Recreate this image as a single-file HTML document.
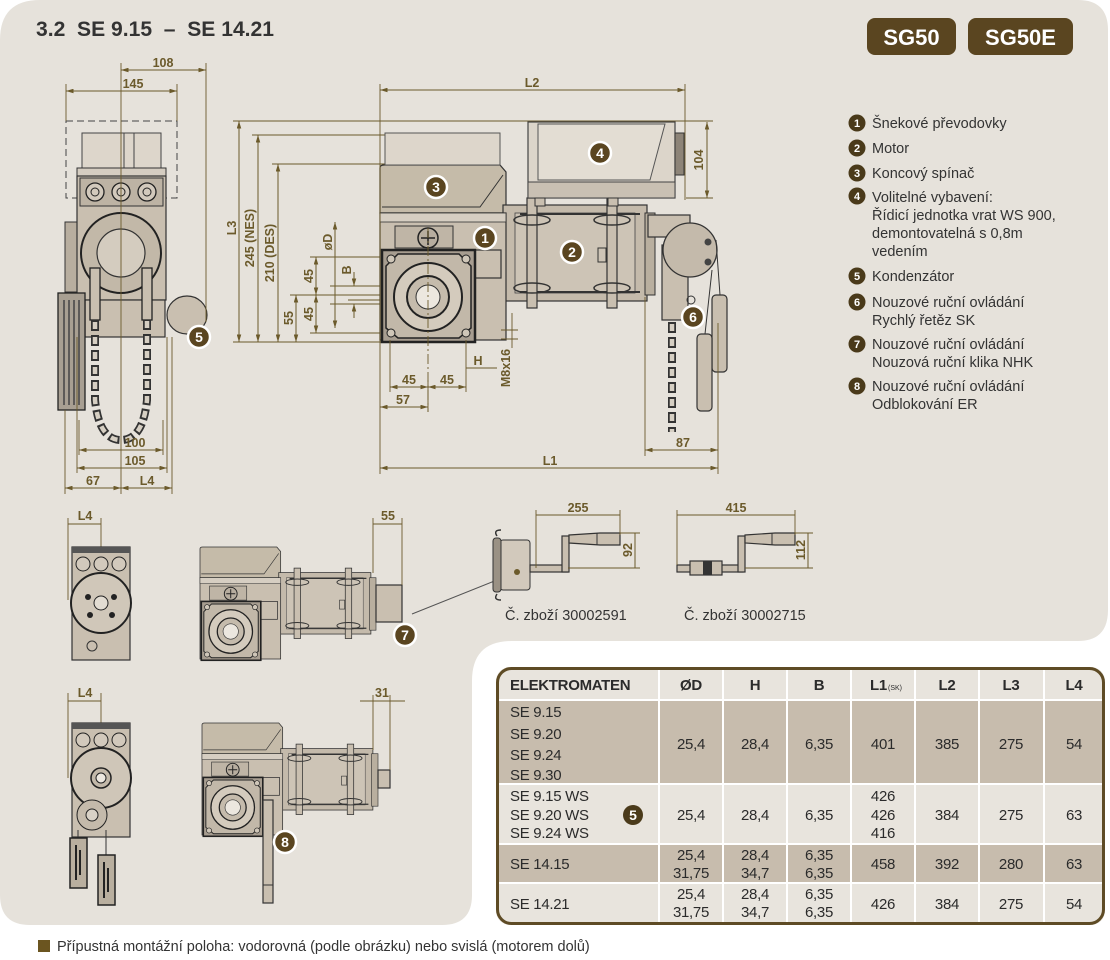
<!DOCTYPE html>
<html><head><meta charset="utf-8"><style>
html,body{margin:0;padding:0;background:#fff;}
svg{display:block;font-family:"Liberation Sans",sans-serif;}
.d{stroke:#6b5a2b;stroke-width:1;fill:none;}
.e{stroke:#6b5a2b;stroke-width:0.9;fill:none;}
.dt{fill:#6b5a2b;font-size:12.5px;font-weight:bold;text-anchor:middle;}
.p{fill:#c9bfb0;stroke:#333;stroke-width:1.2;}
.lg{fill:#333;font-size:14.5px;}
.tb{fill:#2b2b2b;font-size:15px;letter-spacing:-0.3px;}
.tc{text-anchor:middle;}
.bn{fill:#fff;font-size:14px;font-weight:bold;text-anchor:middle;}
</style></head><body>
<svg width="1110" height="960" viewBox="0 0 1110 960" xmlns="http://www.w3.org/2000/svg">
<defs>
<marker id="a" viewBox="0 0 10 6" refX="10" refY="3" markerWidth="8" markerHeight="4.5" orient="auto-start-reverse"><path d="M0,0 L10,3 L0,6z" fill="#6b5a2b"/></marker>
<g id="gm">
<path d="M380,213 V168 Q380,165 384,165 H500 L506,172 V213 Z" fill="#c5bba9" stroke="#333" stroke-width="1.2"/>
<path d="M503,175 L480,207 H382" stroke="#333" fill="none"/>
<rect x="503" y="205" width="144" height="96" fill="#c4baab" stroke="#333" stroke-width="1.2"/>
<rect x="515" y="213" width="120" height="80" fill="#cdc4b6" stroke="#444" stroke-width="0.8"/>
<line x1="520" y1="214" x2="640" y2="214" stroke="#333" stroke-width="2"/>
<line x1="520" y1="292" x2="640" y2="292" stroke="#333" stroke-width="2"/>
<rect x="527" y="198" width="10" height="110" class="p"/>
<rect x="607" y="198" width="10" height="110" class="p"/>
<ellipse cx="532" cy="220" rx="18" ry="5" fill="none" stroke="#333" stroke-width="1.5"/>
<ellipse cx="612" cy="220" rx="18" ry="5" fill="none" stroke="#333" stroke-width="1.5"/>
<ellipse cx="532" cy="288" rx="18" ry="5" fill="none" stroke="#333" stroke-width="1.5"/>
<ellipse cx="612" cy="288" rx="18" ry="5" fill="none" stroke="#333" stroke-width="1.5"/>
<rect x="598" y="248" width="8" height="14" fill="none" stroke="#333"/>
<rect x="645" y="213" width="10" height="82" fill="#b9af9f" stroke="#333"/>
<rect x="380" y="213" width="126" height="127" class="p"/>
<rect x="380" y="213" width="126" height="9" fill="#d6cec2" stroke="#333" stroke-width="0.8"/>
<rect x="395" y="226" width="58" height="22" fill="#bfb5a6" stroke="#333"/>
<circle cx="428" cy="238" r="10" fill="#b7ad9f" stroke="#222" stroke-width="1.5"/>
<path d="M421,238 H435 M428,231 V245" stroke="#222" stroke-width="1.5"/>
<rect x="475" y="250" width="26" height="28" class="p"/>
<rect x="382" y="250" width="93" height="92" fill="#a79d90" stroke="#222" stroke-width="2.5"/>
<polygon points="398,254 459,254 471,266 471,328 459,338 398,338 386,328 386,266" fill="#c2b8a9" stroke="#222" stroke-width="1.5"/>
<circle cx="391" cy="259" r="4" fill="#cfc6b8" stroke="#222"/>
<circle cx="466" cy="259" r="4" fill="#cfc6b8" stroke="#222"/>
<circle cx="391" cy="333" r="4" fill="#cfc6b8" stroke="#222"/>
<circle cx="466" cy="333" r="4" fill="#cfc6b8" stroke="#222"/>
<circle cx="428" cy="297" r="34" fill="#d4cbbd" stroke="#222" stroke-width="2"/>
<circle cx="428" cy="297" r="21" fill="#c5bbac" stroke="#222" stroke-width="2"/>
<circle cx="428" cy="297" r="12" fill="#ece7df" stroke="#333"/>
</g>
<clipPath id="tc"><rect x="496" y="667" width="609" height="258" rx="14"/></clipPath>
</defs>

<!-- panel -->
<path d="M0,40 Q0,0 40,0 H1078 Q1108,0 1108,30 V610 Q1108,641 1078,641 H512 Q472,641 472,681 V895 Q472,925 442,925 H30 Q0,925 0,895 Z" fill="#e6e2db"/>

<!-- title -->
<text x="36" y="36" font-size="21" font-weight="bold" fill="#333" textLength="238" lengthAdjust="spacingAndGlyphs">3.2&#160; SE 9.15 &#160;–&#160; SE 14.21</text>

<rect x="867" y="18" width="89" height="37" rx="8" fill="#5a4520"/>
<text x="911.5" y="45" font-size="22" font-weight="bold" fill="#fff" text-anchor="middle">SG50</text>
<rect x="968" y="18" width="105" height="37" rx="8" fill="#5a4520"/>
<text x="1020.5" y="45" font-size="22" font-weight="bold" fill="#fff" text-anchor="middle">SG50E</text>

<!-- legend -->
<g>
<circle cx="857" cy="123" r="8.5" fill="#4a3a1a"/><text x="857" y="127" font-size="11" font-weight="bold" fill="#fff" text-anchor="middle">1</text>
<text x="872" y="128" class="lg">Šnekové převodovky</text>
<circle cx="857" cy="148" r="8.5" fill="#4a3a1a"/><text x="857" y="152" font-size="11" font-weight="bold" fill="#fff" text-anchor="middle">2</text>
<text x="872" y="153" class="lg">Motor</text>
<circle cx="857" cy="173" r="8.5" fill="#4a3a1a"/><text x="857" y="177" font-size="11" font-weight="bold" fill="#fff" text-anchor="middle">3</text>
<text x="872" y="178" class="lg">Koncový spínač</text>
<circle cx="857" cy="196" r="8.5" fill="#4a3a1a"/><text x="857" y="200" font-size="11" font-weight="bold" fill="#fff" text-anchor="middle">4</text>
<text x="872" y="202" class="lg">Volitelné vybavení:</text>
<text x="872" y="220" class="lg">Řídicí jednotka vrat WS 900,</text>
<text x="872" y="238" class="lg">demontovatelná s 0,8m</text>
<text x="872" y="256" class="lg">vedením</text>
<circle cx="857" cy="276" r="8.5" fill="#4a3a1a"/><text x="857" y="280" font-size="11" font-weight="bold" fill="#fff" text-anchor="middle">5</text>
<text x="872" y="281" class="lg">Kondenzátor</text>
<circle cx="857" cy="302" r="8.5" fill="#4a3a1a"/><text x="857" y="306" font-size="11" font-weight="bold" fill="#fff" text-anchor="middle">6</text>
<text x="872" y="307" class="lg">Nouzové ruční ovládání</text>
<text x="872" y="325" class="lg">Rychlý řetěz SK</text>
<circle cx="857" cy="344" r="8.5" fill="#4a3a1a"/><text x="857" y="348" font-size="11" font-weight="bold" fill="#fff" text-anchor="middle">7</text>
<text x="872" y="349" class="lg">Nouzové ruční ovládání</text>
<text x="872" y="367" class="lg">Nouzová ruční klika NHK</text>
<circle cx="857" cy="386" r="8.5" fill="#4a3a1a"/><text x="857" y="390" font-size="11" font-weight="bold" fill="#fff" text-anchor="middle">8</text>
<text x="872" y="391" class="lg">Nouzové ruční ovládání</text>
<text x="872" y="409" class="lg">Odblokování ER</text>
</g>

<!-- ===== LEFT SIDE VIEW ===== -->
<rect x="66" y="121" width="111" height="77" fill="none" stroke="#444" stroke-dasharray="7 4"/>
<rect x="82" y="133" width="79" height="35" fill="#ddd6cb" stroke="#444"/>
<line x1="124" y1="133" x2="124" y2="168" stroke="#444"/><line x1="134" y1="133" x2="134" y2="168" stroke="#444"/>
<ellipse cx="187" cy="315" rx="20" ry="19" class="p"/>
<rect x="65" y="222" width="13" height="70" fill="#b8ae9f" stroke="#333"/>
<rect x="77" y="168" width="89" height="8" fill="#d5cdc1" stroke="#333"/>
<rect x="77" y="176" width="89" height="124" class="p"/>
<rect x="85" y="300" width="80" height="37" class="p"/>
<rect x="80" y="178" width="83" height="28" fill="#bdb3a4" stroke="#333"/>
<circle cx="95" cy="192" r="9" fill="#d2c9bc" stroke="#222" stroke-width="1.3"/><circle cx="95" cy="192" r="4" fill="none" stroke="#222"/>
<circle cx="121" cy="192" r="9" fill="#d2c9bc" stroke="#222" stroke-width="1.3"/><circle cx="121" cy="192" r="4" fill="none" stroke="#222"/>
<circle cx="147" cy="192" r="9" fill="#d2c9bc" stroke="#222" stroke-width="1.3"/><circle cx="147" cy="192" r="4" fill="none" stroke="#222"/>
<circle cx="121" cy="253" r="40" fill="#c2b8a8" stroke="#222" stroke-width="2"/>
<circle cx="121" cy="253" r="24" fill="#d4ccbf" stroke="#333" stroke-width="1.2"/>
<rect x="90" y="268" width="10" height="52" fill="#c9bfb0" stroke="#222" stroke-width="1.3"/>
<rect x="142" y="268" width="10" height="52" fill="#c9bfb0" stroke="#222" stroke-width="1.3"/>
<path d="M95,320 V400 Q99,440 121,440 Q143,440 147,400 V320" fill="none" stroke="#333" stroke-width="8" stroke-dasharray="11 4"/>
<path d="M95,320 V400 Q99,440 121,440 Q143,440 147,400 V320" fill="none" stroke="#d6cfc3" stroke-width="4.5" stroke-dasharray="7 8" stroke-dashoffset="-2"/>
<rect x="58" y="293" width="27" height="117" fill="#a89f92" stroke="#222" stroke-width="1.3"/>
<path d="M64,300 V405 M69,300 V405 M74,300 V405 M79,300 V405" stroke="#444" stroke-width="1.5"/>
<line x1="121" y1="63" x2="121" y2="494" class="e"/>
<line x1="206" y1="63" x2="206" y2="322" class="e"/>
<line x1="66" y1="84" x2="66" y2="121" class="e"/>
<line x1="177" y1="84" x2="177" y2="121" class="e"/>
<line x1="121" y1="70" x2="206" y2="70" class="d" marker-start="url(#a)" marker-end="url(#a)"/>
<text x="163" y="67" class="dt">108</text>
<line x1="66" y1="91" x2="177" y2="91" class="d" marker-start="url(#a)" marker-end="url(#a)"/>
<text x="133" y="88" class="dt">145</text>
<line x1="65" y1="410" x2="65" y2="494" class="e"/>
<line x1="77" y1="337" x2="77" y2="473" class="e"/>
<line x1="79" y1="420" x2="79" y2="455" class="e"/>
<line x1="163" y1="420" x2="163" y2="455" class="e"/>
<line x1="167" y1="337" x2="167" y2="473" class="e"/>
<line x1="172" y1="337" x2="172" y2="494" class="e"/>
<line x1="79" y1="450" x2="163" y2="450" class="d" marker-start="url(#a)" marker-end="url(#a)"/>
<text x="135" y="447" class="dt">100</text>
<line x1="77" y1="468" x2="167" y2="468" class="d" marker-start="url(#a)" marker-end="url(#a)"/>
<text x="135" y="465" class="dt">105</text>
<line x1="65" y1="488" x2="121" y2="488" class="d" marker-start="url(#a)" marker-end="url(#a)"/>
<text x="93" y="485" class="dt">67</text>
<line x1="121" y1="488" x2="172" y2="488" class="d" marker-start="url(#a)" marker-end="url(#a)"/>
<text x="147" y="485" class="dt">L4</text>

<!-- ===== FRONT VIEW ===== -->
<line x1="233" y1="121" x2="713" y2="121" class="e"/>
<line x1="252" y1="135" x2="385" y2="135" class="e"/>
<line x1="272" y1="164" x2="385" y2="164" class="e"/>
<line x1="233" y1="342" x2="382" y2="342" class="e"/>
<line x1="290" y1="295" x2="440" y2="295" class="e"/>
<line x1="310" y1="257" x2="391" y2="257" class="e"/>
<line x1="310" y1="333" x2="391" y2="333" class="e"/>
<line x1="330" y1="286" x2="420" y2="286" class="e"/>
<line x1="330" y1="304" x2="420" y2="304" class="e"/>
<line x1="348" y1="300" x2="420" y2="300" class="e"/>

<use href="#gm"/>
<rect x="385" y="133" width="115" height="32" fill="#ddd6cb" stroke="#555"/>
<!-- box 4 -->
<rect x="528" y="122" width="147" height="76" fill="#dcd5ca" stroke="#444" stroke-width="1.2"/>
<path d="M538,124 H665 L650,180 H538 Z" fill="#e3ddd3" stroke="#555"/>
<rect x="528" y="182" width="147" height="16" fill="#c9c0b3" stroke="#444"/>
<rect x="675" y="133" width="9" height="42" fill="#8d8478" stroke="#333"/>
<rect x="535" y="198" width="10" height="8" fill="#c9bfb0" stroke="#333"/>
<rect x="608" y="198" width="10" height="8" fill="#c9bfb0" stroke="#333"/>
<!-- chain drive -->
<rect x="648" y="215" width="42" height="22" class="p"/>
<rect x="662" y="245" width="26" height="75" class="p"/>
<circle cx="690" cy="250" r="27" fill="#c4baab" stroke="#333" stroke-width="1.3"/>
<circle cx="708" cy="242" r="3.5" fill="#444"/><circle cx="708" cy="262" r="3.5" fill="#444"/>
<circle cx="691" cy="300" r="4" fill="none" stroke="#333"/>
<path d="M716,240 L720,295 M712,270 L705,334" stroke="#333" stroke-width="1"/>
<rect x="712" y="295" width="15" height="77" rx="4" class="p"/>
<rect x="697" y="334" width="15" height="77" rx="4" class="p"/>
<line x1="672" y1="322" x2="672" y2="432" stroke="#333" stroke-width="8" stroke-dasharray="11 4"/>
<line x1="672" y1="322" x2="672" y2="432" stroke="#d6cfc3" stroke-width="4.5" stroke-dasharray="7 8" stroke-dashoffset="-2"/>
<!-- center line -->
<line x1="428" y1="228" x2="428" y2="412" stroke="#6b5a2b" stroke-width="0.9" stroke-dasharray="10 3 2 3"/>
<!-- dims front -->
<line x1="380" y1="84" x2="380" y2="474" class="e"/>
<line x1="685" y1="84" x2="685" y2="200" class="e"/>
<line x1="380" y1="90" x2="685" y2="90" class="d" marker-start="url(#a)" marker-end="url(#a)"/>
<text x="532" y="87" class="dt">L2</text>
<line x1="718" y1="323" x2="718" y2="474" class="e"/>
<line x1="645" y1="297" x2="645" y2="456" class="e"/>
<line x1="380" y1="468" x2="718" y2="468" class="d" marker-start="url(#a)" marker-end="url(#a)"/>
<text x="550" y="465" class="dt">L1</text>
<line x1="645" y1="450" x2="718" y2="450" class="d" marker-start="url(#a)" marker-end="url(#a)"/>
<text x="683" y="447" class="dt">87</text>
<line x1="686" y1="198" x2="713" y2="198" class="e"/>
<line x1="707" y1="122" x2="707" y2="198" class="d" marker-start="url(#a)" marker-end="url(#a)"/>
<text transform="translate(703,160) rotate(-90)" class="dt">104</text>
<line x1="239" y1="121" x2="239" y2="342" class="d" marker-start="url(#a)" marker-end="url(#a)"/>
<text transform="translate(236,228) rotate(-90)" class="dt">L3</text>
<line x1="258" y1="135" x2="258" y2="342" class="d" marker-start="url(#a)" marker-end="url(#a)"/>
<text transform="translate(254,238) rotate(-90)" class="dt">245 (NES)</text>
<line x1="278" y1="164" x2="278" y2="342" class="d" marker-start="url(#a)" marker-end="url(#a)"/>
<text transform="translate(274,253) rotate(-90)" class="dt">210 (DES)</text>
<line x1="296" y1="295" x2="296" y2="342" class="d" marker-start="url(#a)" marker-end="url(#a)"/>
<text transform="translate(293,318) rotate(-90)" class="dt">55</text>
<line x1="316" y1="257" x2="316" y2="295" class="d" marker-start="url(#a)" marker-end="url(#a)"/>
<text transform="translate(313,276) rotate(-90)" class="dt">45</text>
<line x1="316" y1="295" x2="316" y2="333" class="d" marker-start="url(#a)" marker-end="url(#a)"/>
<text transform="translate(313,314) rotate(-90)" class="dt">45</text>
<line x1="335" y1="222" x2="335" y2="328" class="d" marker-start="url(#a)" marker-end="url(#a)"/>
<text transform="translate(332,242) rotate(-90)" class="dt">øD</text>
<line x1="354" y1="272" x2="354" y2="286" class="d" marker-end="url(#a)"/>
<line x1="354" y1="318" x2="354" y2="304" class="d" marker-end="url(#a)"/>
<text transform="translate(351,270) rotate(-90)" class="dt">B</text>
<line x1="390" y1="340" x2="390" y2="392" class="e"/>
<line x1="466" y1="340" x2="466" y2="392" class="e"/>
<line x1="428" y1="380" x2="428" y2="412" class="e"/>
<line x1="390" y1="387" x2="428" y2="387" class="d" marker-start="url(#a)" marker-end="url(#a)"/>
<line x1="428" y1="387" x2="466" y2="387" class="d" marker-start="url(#a)" marker-end="url(#a)"/>
<text x="409" y="384" class="dt">45</text>
<text x="447" y="384" class="dt">45</text>
<line x1="380" y1="407" x2="428" y2="407" class="d" marker-start="url(#a)" marker-end="url(#a)"/>
<text x="403" y="404" class="dt">57</text>
<line x1="466" y1="368" x2="497" y2="368" class="e"/>
<text x="478" y="365" class="dt">H</text>
<line x1="512" y1="313" x2="512" y2="348" class="e"/>
<line x1="501" y1="330" x2="518" y2="330" class="e"/>
<line x1="501" y1="339" x2="518" y2="339" class="e"/>
<text transform="translate(510,368) rotate(-90)" class="dt">M8x16</text>

<!-- ===== BOTTOM VIEWS ===== -->
<line x1="68" y1="518" x2="68" y2="600" class="e"/>
<line x1="101" y1="518" x2="101" y2="560" class="e"/>
<line x1="68" y1="524" x2="101" y2="524" class="d"/>
<text x="85" y="520" class="dt">L4</text>
<rect x="72" y="547" width="58" height="113" class="p"/>
<rect x="72" y="547" width="58" height="6" fill="#555"/>
<circle cx="83" cy="564" r="7" fill="#d2c9bc" stroke="#222"/>
<circle cx="101" cy="564" r="7" fill="#d2c9bc" stroke="#222"/>
<circle cx="119" cy="564" r="7" fill="#d2c9bc" stroke="#222"/>
<circle cx="101" cy="603" r="30" fill="#d0c7b9" stroke="#222" stroke-width="2"/>
<circle cx="101" cy="603" r="7" fill="#e2dcd2" stroke="#222"/>
<circle cx="88" cy="597" r="3" fill="#222"/><circle cx="114" cy="597" r="3" fill="#222"/><circle cx="90" cy="615" r="3" fill="#222"/><circle cx="112" cy="615" r="3" fill="#222"/>
<circle cx="92" cy="646" r="5" fill="none" stroke="#333"/>
<use href="#gm" transform="translate(200,547) scale(0.64) translate(-380,-165)"/>
<rect x="376" y="585" width="26" height="37" class="p"/>
<line x1="373" y1="518" x2="373" y2="573" class="e"/>
<line x1="402" y1="518" x2="402" y2="585" class="e"/>
<line x1="373" y1="524" x2="402" y2="524" class="d"/>
<text x="388" y="520" class="dt">55</text>
<line x1="68" y1="693" x2="68" y2="778" class="e"/>
<line x1="101" y1="693" x2="101" y2="735" class="e"/>
<line x1="68" y1="701" x2="101" y2="701" class="d"/>
<text x="85" y="697" class="dt">L4</text>
<rect x="72" y="723" width="58" height="114" class="p"/>
<rect x="72" y="723" width="58" height="6" fill="#555"/>
<circle cx="83" cy="740" r="7" fill="#d2c9bc" stroke="#222"/>
<circle cx="101" cy="740" r="7" fill="#d2c9bc" stroke="#222"/>
<circle cx="119" cy="740" r="7" fill="#d2c9bc" stroke="#222"/>
<circle cx="101" cy="778" r="30" fill="#cfc6b8" stroke="#222" stroke-width="2"/>
<circle cx="101" cy="778" r="10" fill="#c2b8a9" stroke="#222" stroke-width="1.5"/>
<circle cx="101" cy="778" r="5" fill="#ece7df" stroke="#222"/>
<circle cx="92" cy="815" r="15" fill="#c4baab" stroke="#222"/>
<circle cx="92" cy="815" r="6" fill="#d8d1c6" stroke="#222"/>
<line x1="78" y1="830" x2="78" y2="838" stroke="#333"/>
<line x1="106" y1="830" x2="106" y2="855" stroke="#333"/>
<rect x="70" y="838" width="17" height="50" fill="#b9af9f" stroke="#222" stroke-width="1.5"/>
<path d="M76,845 V880 M80,850 V875" stroke="#222" stroke-width="2"/>
<rect x="98" y="855" width="17" height="50" fill="#b9af9f" stroke="#222" stroke-width="1.5"/>
<path d="M104,862 V898 M108,868 V892" stroke="#222" stroke-width="2"/>
<use href="#gm" transform="translate(202,723) scale(0.64) translate(-380,-165)"/>
<rect x="378" y="770" width="12" height="18" class="p"/>
<line x1="373" y1="695" x2="373" y2="750" class="e"/>
<line x1="390" y1="695" x2="390" y2="770" class="e"/>
<line x1="360" y1="701" x2="405" y2="701" class="d"/>
<text x="382" y="697" class="dt">31</text>
<rect x="263" y="800" width="10" height="103" class="p"/>
<line x1="263" y1="885" x2="273" y2="885" stroke="#333"/>

<!-- cranks -->
<line x1="412" y1="614" x2="517" y2="572" stroke="#555" stroke-width="1"/>
<rect x="500" y="540" width="30" height="50" rx="3" fill="#d2c9bc" stroke="#333"/>
<rect x="493" y="538" width="8" height="54" rx="3" fill="#9a9184" stroke="#333"/>
<path d="M497,536 q-4,-6 4,-6 M497,594 q-4,6 4,6" stroke="#333" fill="none" stroke-width="1.5"/>
<circle cx="517" cy="572" r="3" fill="#6b5a2b"/>
<rect x="530" y="565" width="38" height="7" class="p"/>
<rect x="562" y="536" width="7" height="36" class="p"/>
<path d="M569,535 L600,533 L620,533 L620,545 L600,545 L569,543 Z" class="p"/>
<line x1="597" y1="533" x2="597" y2="545" stroke="#333"/>
<line x1="536" y1="510" x2="536" y2="568" class="e"/>
<line x1="620" y1="510" x2="620" y2="535" class="e"/>
<line x1="536" y1="515" x2="620" y2="515" class="d"/>
<text x="578" y="512" class="dt" font-weight="normal">255</text>
<line x1="620" y1="533" x2="640" y2="533" class="e"/>
<line x1="568" y1="568" x2="640" y2="568" class="e"/>
<line x1="635" y1="533" x2="635" y2="568" class="d"/>
<text transform="translate(632,550) rotate(-90)" class="dt" font-weight="normal">92</text>
<text x="505" y="620" class="lg" font-size="14.5">Č. zboží 30002591</text>

<rect x="677" y="565" width="66" height="7" class="p"/>
<rect x="690" y="561" width="32" height="14" class="p"/>
<rect x="703" y="561" width="9" height="14" fill="#333"/>
<rect x="738" y="536" width="7" height="36" class="p"/>
<path d="M745,535 L775,533 L795,533 L795,545 L775,545 L745,543 Z" class="p"/>
<line x1="772" y1="533" x2="772" y2="545" stroke="#333"/>
<line x1="677" y1="510" x2="677" y2="565" class="e"/>
<line x1="795" y1="510" x2="795" y2="535" class="e"/>
<line x1="677" y1="515" x2="795" y2="515" class="d"/>
<text x="736" y="512" class="dt" font-weight="normal">415</text>
<line x1="795" y1="533" x2="813" y2="533" class="e"/>
<line x1="745" y1="568" x2="813" y2="568" class="e"/>
<line x1="808" y1="533" x2="808" y2="568" class="d"/>
<text transform="translate(805,550) rotate(-90)" class="dt" font-weight="normal">112</text>
<text x="684" y="620" class="lg" font-size="14.5">Č. zboží 30002715</text>

<!-- badges -->
<g>
<circle cx="485" cy="238" r="11" fill="#5a4520" stroke="#fff" stroke-width="2.5"/><text x="485" y="243" class="bn">1</text>
<circle cx="572" cy="252" r="11" fill="#5a4520" stroke="#fff" stroke-width="2.5"/><text x="572" y="257" class="bn">2</text>
<circle cx="436" cy="187" r="11" fill="#5a4520" stroke="#fff" stroke-width="2.5"/><text x="436" y="192" class="bn">3</text>
<circle cx="600" cy="153" r="11" fill="#5a4520" stroke="#fff" stroke-width="2.5"/><text x="600" y="158" class="bn">4</text>
<circle cx="199" cy="337" r="11" fill="#5a4520" stroke="#fff" stroke-width="2.5"/><text x="199" y="342" class="bn">5</text>
<circle cx="693" cy="317" r="11" fill="#5a4520" stroke="#fff" stroke-width="2.5"/><text x="693" y="322" class="bn">6</text>
<circle cx="405" cy="635" r="11" fill="#5a4520" stroke="#fff" stroke-width="2.5"/><text x="405" y="640" class="bn">7</text>
<circle cx="285" cy="842" r="11" fill="#5a4520" stroke="#fff" stroke-width="2.5"/><text x="285" y="847" class="bn">8</text>
</g>

<!-- ===== TABLE ===== -->
<g clip-path="url(#tc)">
<rect x="496" y="667" width="609" height="258" fill="#e8e4dd"/>
<rect x="496" y="700" width="609" height="84" fill="#c7bcad"/>
<rect x="496" y="844" width="609" height="38" fill="#c7bcad"/>
<g stroke="#fff" stroke-width="2">
<line x1="496" y1="700" x2="1105" y2="700"/>
<line x1="496" y1="784" x2="1105" y2="784"/>
<line x1="496" y1="844" x2="1105" y2="844"/>
<line x1="496" y1="883" x2="1105" y2="883"/>
<line x1="659" y1="667" x2="659" y2="925"/>
<line x1="723" y1="667" x2="723" y2="925"/>
<line x1="787" y1="667" x2="787" y2="925"/>
<line x1="851" y1="667" x2="851" y2="925"/>
<line x1="915" y1="667" x2="915" y2="925"/>
<line x1="979" y1="667" x2="979" y2="925"/>
<line x1="1044" y1="667" x2="1044" y2="925"/>
</g>
</g>
<rect x="497.5" y="668.5" width="606" height="255" rx="14" fill="none" stroke="#5e4b25" stroke-width="3"/>
<g class="tb" font-weight="bold">
<text x="510" y="690">ELEKTROMATEN</text>
<text x="691" y="690" class="tc">ØD</text>
<text x="755" y="690" class="tc">H</text>
<text x="819" y="690" class="tc">B</text>
<text x="870" y="690">L1</text>
<text x="947" y="690" class="tc">L2</text>
<text x="1011" y="690" class="tc">L3</text>
<text x="1074" y="690" class="tc">L4</text>
</g>
<text x="888" y="690" font-size="7" fill="#2b2b2b">(SK)</text>
<g class="tb">
<text x="510" y="717">SE 9.15</text>
<text x="510" y="739">SE 9.20</text>
<text x="510" y="760">SE 9.24</text>
<text x="510" y="780">SE 9.30</text>
<text x="691" y="749" class="tc">25,4</text>
<text x="755" y="749" class="tc">28,4</text>
<text x="819" y="749" class="tc">6,35</text>
<text x="883" y="749" class="tc">401</text>
<text x="947" y="749" class="tc">385</text>
<text x="1011" y="749" class="tc">275</text>
<text x="1074" y="749" class="tc">54</text>

<text x="510" y="801">SE 9.15 WS</text>
<text x="510" y="820">SE 9.20 WS</text>
<text x="510" y="838">SE 9.24 WS</text>
<text x="691" y="820" class="tc">25,4</text>
<text x="755" y="820" class="tc">28,4</text>
<text x="819" y="820" class="tc">6,35</text>
<text x="883" y="801" class="tc">426</text>
<text x="883" y="820" class="tc">426</text>
<text x="883" y="838" class="tc">416</text>
<text x="947" y="820" class="tc">384</text>
<text x="1011" y="820" class="tc">275</text>
<text x="1074" y="820" class="tc">63</text>

<text x="510" y="869">SE 14.15</text>
<text x="691" y="860" class="tc">25,4</text>
<text x="691" y="878" class="tc">31,75</text>
<text x="755" y="860" class="tc">28,4</text>
<text x="755" y="878" class="tc">34,7</text>
<text x="819" y="860" class="tc">6,35</text>
<text x="819" y="878" class="tc">6,35</text>
<text x="883" y="869" class="tc">458</text>
<text x="947" y="869" class="tc">392</text>
<text x="1011" y="869" class="tc">280</text>
<text x="1074" y="869" class="tc">63</text>

<text x="510" y="909">SE 14.21</text>
<text x="691" y="899" class="tc">25,4</text>
<text x="691" y="917" class="tc">31,75</text>
<text x="755" y="899" class="tc">28,4</text>
<text x="755" y="917" class="tc">34,7</text>
<text x="819" y="899" class="tc">6,35</text>
<text x="819" y="917" class="tc">6,35</text>
<text x="883" y="909" class="tc">426</text>
<text x="947" y="909" class="tc">384</text>
<text x="1011" y="909" class="tc">275</text>
<text x="1074" y="909" class="tc">54</text>
</g>
<circle cx="633" cy="815" r="10" fill="#4a3a1a"/>
<text x="633" y="820" class="bn">5</text>

<!-- footer -->
<rect x="38" y="940" width="12" height="12" fill="#6b5520"/>
<text x="57" y="951" class="lg">Přípustná montážní poloha: vodorovná (podle obrázku) nebo svislá (motorem dolů)</text>
</svg>
</body></html>
